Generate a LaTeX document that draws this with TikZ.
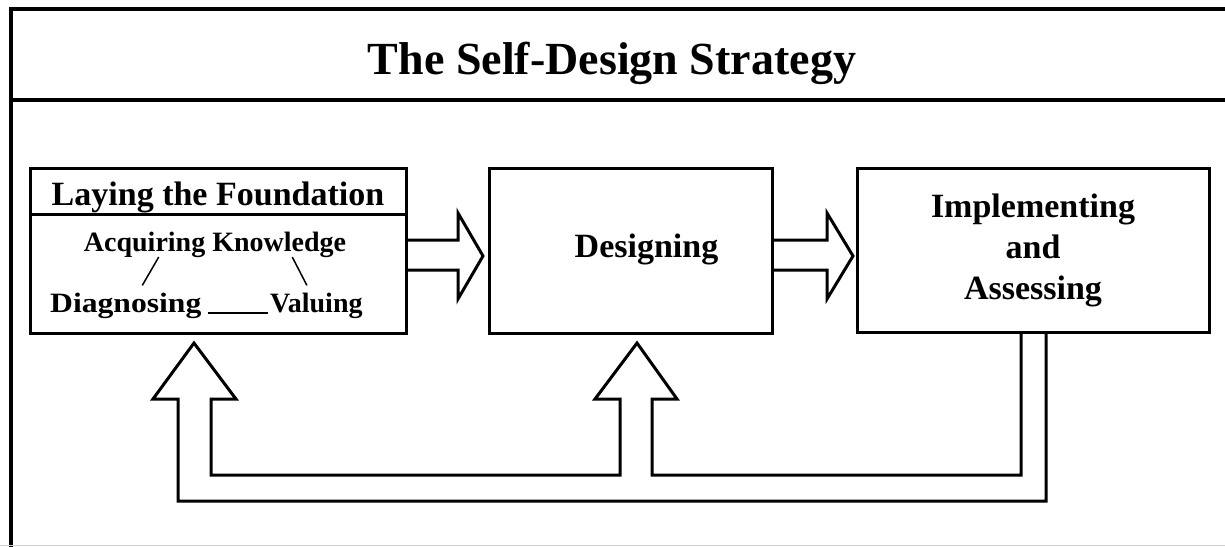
\documentclass[tikz,border=0pt]{standalone}
\usepackage{fontspec}
\setmainfont{Liberation Serif}
\usetikzlibrary{calc}
\begin{document}
\begin{tikzpicture}[x=1pt,y=-1pt,
  frame/.style={line width=4pt},
  box/.style={draw, line width=3pt, rectangle, inner sep=0pt},
  big/.style={font=\fontsize{34}{41}\selectfont\bfseries, align=center},
  small/.style={font=\fontsize{28}{32}\selectfont\bfseries, inner sep=0pt},
  fat/.style={line width=3pt, line join=miter},
  thinline/.style={line width=1.5pt}]
\useasboundingbox (0,0) rectangle (1225,546);
\fill[white] (0,0) rectangle (1225,546);
% frame
\draw[frame] (1227,9) -- (11,9) -- (11,548);
\draw[frame] (11,100) -- (1227,100);
\draw[gray!35, line width=1pt] (0,545.5) -- (1225,545.5);
\node[font=\fontsize{46}{50}\selectfont\bfseries, anchor=base, inner sep=0pt] (title) at (612,74) {The Self-Design Strategy};
% boxes
\node[box, minimum width=376pt, minimum height=165pt] (lf) at (218,250.5) {};
\coordinate (hd) at (0,214);
\draw[line width=3pt] (lf.west |- hd) -- (lf.east |- hd);
\node[big, anchor=base, inner sep=0pt] (lfh) at (218,205) {Laying the Foundation};
\node[box, minimum width=283pt, minimum height=165pt] (des) at (630.5,250.5) {};
\node[big, anchor=base, inner sep=0pt] (destext) at (646.5,257) {Designing};
\node[box, big, minimum width=352pt, minimum height=164pt] (imp) at (1033,250) {Implementing\\and\\Assessing};
% sub texts
\node[small, anchor=base] (ak) at (215,251) {Acquiring Knowledge};
\node[small, anchor=base west] (dg) at (50,312) {\scalebox{1.13}[1]{Diagnosing}};
\node[small, anchor=base west] (vl) at (270,312) {Valuing};
\draw[thinline] ($(ak.base west)+(75,6)$) -- ($(dg.north)+(16.5,-7)$);
\draw[thinline] ($(ak.base east)+(-54,6)$) -- ($(vl.north)+(-9.5,-7)$);
\draw[thinline] ([xshift=6pt,yshift=-1pt]dg.base east) -- ([xshift=-2pt,yshift=-1pt]vl.base west);
% forward arrows
\draw[fat] ($(lf.east)+(0,-10.5)$) -- (458,240) -- (458,213) -- (483,256) -- (458,299) -- (458,270) -- ($(lf.east)+(0,19.5)$);
\draw[fat] ($(des.east)+(0,-10.5)$) -- (827,240) -- (827,213) -- (853,256) -- (827,299) -- (827,270) -- ($(des.east)+(0,19.5)$);
% feedback loop
\draw[fat] ($(imp.south)+(-12,0)$) -- (1021,475) -- (652,475) -- (652,399) -- (677,399) -- (637,343) -- (595,399) -- (620,399) -- (620,475) -- (211,475) -- (211,399) -- (236,399) -- (194,343) -- (153,399) -- (178,399) -- (178,501) -- (1046,501) -- ($(imp.south)+(13,0)$);
\end{tikzpicture}
\end{document}
